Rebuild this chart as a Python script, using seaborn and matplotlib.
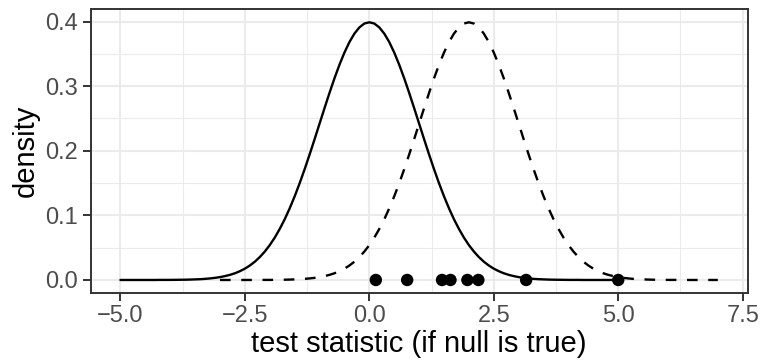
import numpy as np
import pandas as pd
import matplotlib
matplotlib.use("Agg")
import matplotlib.pyplot as plt
import seaborn as sns

# density heights, from the peak outwards in steps of 0.1
# (the curves are symmetric and the dashed one has the same shape)
half_density = [0.3989, 0.3970, 0.3910, 0.3814, 0.3683, 0.3521, 0.3332, 0.3123,
                0.2897, 0.2661, 0.2420, 0.2179, 0.1942, 0.1714, 0.1497, 0.1295,
                0.1109, 0.0940, 0.0790, 0.0656, 0.0540, 0.0440, 0.0355, 0.0283,
                0.0224, 0.0175, 0.0136, 0.0104, 0.0079, 0.0060, 0.0044, 0.0033,
                0.0024, 0.0017, 0.0012, 0.0009, 0.0006, 0.0004, 0.0003, 0.0002,
                0.0001, 0.0001, 0.0001, 0.0000, 0.0000, 0.0000, 0.0000, 0.0000,
                0.0000, 0.0000, 0.0000]
density = half_density[:0:-1] + half_density
null_x = np.linspace(-5, 5, len(density))
alt_x = np.linspace(-3, 7, len(density))

# observed test statistics (points on the x axis)
observed = [0.13, 0.76, 1.46, 1.63, 1.97, 2.19, 3.15, 5.0]

x_ticks = [-5.0, -2.5, 0.0, 2.5, 5.0, 7.5]
y_ticks = [0.0, 0.1, 0.2, 0.3, 0.4]

null_df = pd.DataFrame({"x": null_x, "y": density})
alt_df = pd.DataFrame({"x": alt_x, "y": density})
obs_df = pd.DataFrame({"x": observed, "y": [0.0] * len(observed)})

sns.set_theme(style="white")
plt.rcParams["font.family"] = ["Liberation Sans", "DejaVu Sans"]

fig, ax = plt.subplots(figsize=(7.61, 3.62), dpi=100)
fig.subplots_adjust(left=0.119, right=0.9825, top=0.974, bottom=0.191)

sns.lineplot(data=null_df, x="x", y="y", ax=ax, color="black", linewidth=1.7)
sns.lineplot(data=alt_df, x="x", y="y", ax=ax, color="black", linewidth=1.7,
             linestyle=(0, (4.5, 4.5)))
sns.scatterplot(data=obs_df, x="x", y="y", ax=ax, color="black", s=80,
                edgecolor="none", zorder=5, clip_on=False)

ax.set_xlim(-5.6, 7.6)
ax.set_ylim(-0.01995, 0.41885)
ax.set_xticks(x_ticks)
ax.set_xticklabels([f"{t:.1f}".replace("-", "\u2212") for t in x_ticks])
ax.set_yticks(y_ticks)
ax.set_yticklabels([f"{t:.1f}" for t in y_ticks])
ax.xaxis.set_minor_locator(plt.FixedLocator([-3.75, -1.25, 1.25, 3.75, 6.25]))
ax.yaxis.set_minor_locator(plt.FixedLocator([0.05, 0.15, 0.25, 0.35]))

ax.grid(which="major", color="#EBEBEB", linewidth=1.5)
ax.grid(which="minor", color="#EBEBEB", linewidth=0.8)
ax.set_axisbelow(True)

for sp in ax.spines.values():
    sp.set_color("#333333")
    sp.set_linewidth(1.4)

ax.tick_params(which="major", length=5.5, width=1.4, color="#333333",
               labelsize=17, labelcolor="#4D4D4D", pad=3.5,
               bottom=True, left=True)
ax.tick_params(which="minor", length=0)

ax.set_xlabel("test statistic (if null is true)", fontsize=21, color="black", labelpad=2)
ax.set_ylabel("density", fontsize=21, color="black", labelpad=4)

fig.savefig("out.png", dpi=100)
